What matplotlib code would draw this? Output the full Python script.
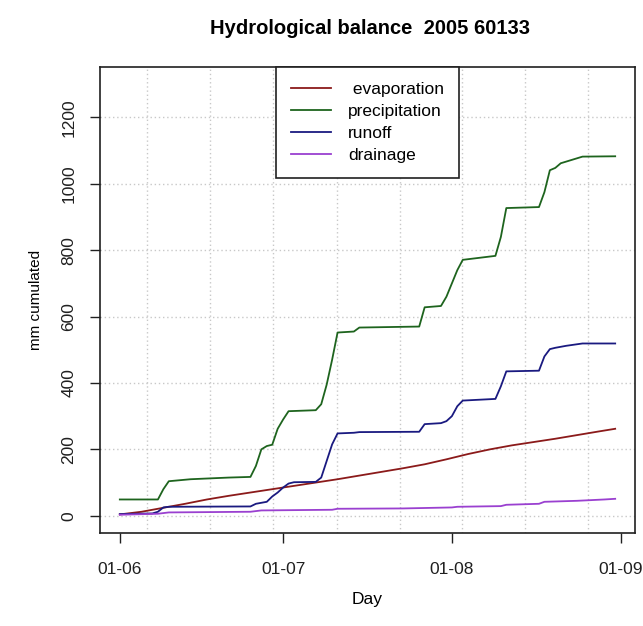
import datetime as dt
import matplotlib
matplotlib.use("Agg")
import matplotlib.pyplot as plt
import matplotlib.dates as mdates

plt.rcParams['font.family'] = ['Liberation Sans', 'DejaVu Sans']

start = dt.date(2005, 6, 1)

# (day offset from 1 June 2005, cumulated mm)
evap_days = [0, 4, 8, 12, 16, 20, 24, 28, 32, 36, 40, 44, 48, 52, 56, 60, 64, 68, 72, 76, 80, 84, 88, 91]
evap_vals = [4, 12, 24, 36, 49, 60, 70, 80, 90, 100, 110, 121, 132, 143, 155, 170, 186, 200, 212, 222, 232, 243, 254, 262]

prec_days = [0, 7, 8, 9, 13, 20, 24, 25, 26, 27, 28, 29, 30, 31, 36, 37, 38, 39, 40, 43, 44, 55, 56, 59, 60, 61, 62, 63, 66, 69, 70, 71, 77, 78, 79, 80, 81, 83, 85, 91]
prec_vals = [49, 49, 80, 104, 110, 115, 117, 150, 200, 210, 214, 262, 290, 315, 318, 336, 395, 470, 552, 555, 567, 570, 628, 632, 660, 700, 740, 771, 777, 783, 840, 927, 930, 975, 1041, 1048, 1062, 1072, 1082, 1083]

runoff_days = [0, 6, 7, 8, 9, 24, 25, 27, 28, 29, 30, 31, 32, 36, 37, 38, 39, 40, 43, 44, 55, 56, 59, 60, 61, 62, 63, 69, 70, 71, 77, 78, 79, 80, 82, 85, 91]
runoff_vals = [5, 7, 12, 25, 27, 28, 36, 42, 58, 70, 85, 97, 101, 102, 115, 165, 215, 248, 250, 252, 253, 276, 279, 285, 300, 330, 347, 352, 390, 435, 437, 480, 502, 506, 512, 519, 519]

drain_days = [0, 7, 9, 24, 26, 39, 40, 52, 61, 62, 70, 71, 77, 78, 84, 89, 91]
drain_vals = [3, 6, 10, 12, 16, 18, 21, 22, 25, 27, 29, 33, 36, 42, 45, 49, 51]

series_names = [" evaporation", "precipitation", "runoff", "drainage"]
series_colors = ["#8B1A1A", "#1E641E", "#1A1A80", "#9A40D0"]

x_tick_dates = [dt.date(2005, 6, 1), dt.date(2005, 7, 1), dt.date(2005, 8, 1), dt.date(2005, 9, 1)]
y_ticks = [0, 200, 400, 600, 800, 1000, 1200]


def to_dates(days):
    return [start + dt.timedelta(days=d) for d in days]


fig = plt.figure(figsize=(6.43, 6.26), dpi=100)
ax = fig.add_axes([100 / 643, 1 - 533 / 626, 535 / 643, 466 / 626])

# grid (dotted light gray)
grid_offsets = [4.94, 16.57, 28.2, 39.84, 51.47, 62.8, 74.4, 86.06]
base = mdates.date2num(start)
for g in grid_offsets:
    ax.axvline(base + g, color="#c8c8c8", linestyle=(0, (1, 2)), linewidth=1, zorder=0)
for yv in y_ticks:
    ax.axhline(yv, color="#c8c8c8", linestyle=(0, (1, 2)), linewidth=1, zorder=0)

data = [(evap_days, evap_vals), (prec_days, prec_vals), (runoff_days, runoff_vals), (drain_days, drain_vals)]
for (d, v), name, col in zip(data, series_names, series_colors):
    ax.plot(to_dates(d), v, color=col, linewidth=1.3, label=name, zorder=3)

ax.set_xlim(base - 3.64, base + 91 + 3.64)
ax.set_ylim(-52, 1352)
ax.set_xticks(mdates.date2num(x_tick_dates))
ax.xaxis.set_major_formatter(mdates.DateFormatter("%d-%m"))
ax.set_yticks(y_ticks)
for lbl in ax.get_yticklabels():
    lbl.set_rotation(90)
    lbl.set_va("center")
ax.tick_params(axis="both", direction="out", length=7, width=1, labelsize=12.5, colors="#202020")
ax.tick_params(axis="x", pad=14)
ax.tick_params(axis="y", pad=10)
for s in ax.spines.values():
    s.set_linewidth(1.2)
    s.set_color("#202020")

ax.set_xlabel("Day", fontsize=12.5, labelpad=11)
ax.set_ylabel("mm cumulated", fontsize=11, labelpad=13.5)
fig.text(370 / 643, 1 - 28 / 626, "Hydrological balance  2005 60133", ha="center", va="center",
         fontsize=14.5, fontweight="bold")

leg = ax.legend(loc="upper center", frameon=True, fancybox=False, borderaxespad=0,
                fontsize=12.5, handlelength=2.3, handletextpad=1.0, borderpad=0.85, labelspacing=0.4)
leg.get_frame().set_edgecolor("#202020")
leg.get_frame().set_linewidth(1.2)
leg.get_frame().set_alpha(1)

fig.savefig("out.png", dpi=100)
